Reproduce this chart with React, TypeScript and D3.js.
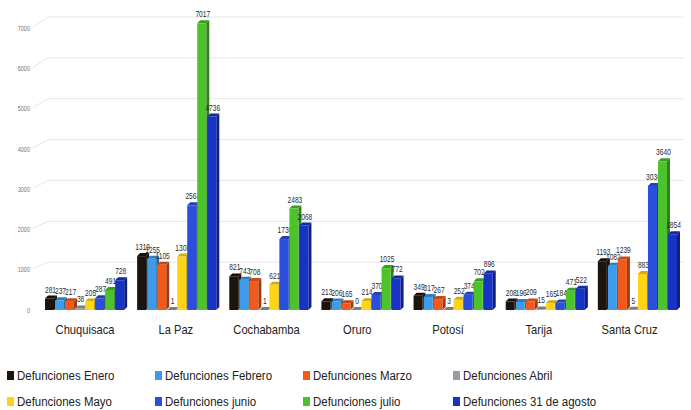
import * as React from 'react';
import * as d3 from 'd3';

const departments = ['Chuquisaca', 'La Paz', 'Cochabamba', 'Oruro', 'Potosí', 'Tarija', 'Santa Cruz'];
const seriesNames = [
  'Defunciones Enero',
  'Defunciones Febrero',
  'Defunciones Marzo',
  'Defunciones Abril',
  'Defunciones Mayo',
  'Defunciones junio',
  'Defunciones julio',
  'Defunciones 31 de agosto',
];
const seriesColors = ['#1c140d', '#3d9be9', '#f25a1c', '#9a9aa6', '#ffd414', '#2b4fdc', '#4cc32b', '#1733c4'];

// one array per month, in department order
const enero = [281, 1319, 821, 213, 349, 208, 1193];
const febrero = [237, 1255, 743, 206, 317, 196, 1082];
const marzo = [217, 1105, 708, 165, 267, 209, 1239];
const abril = [38, 1, 1, 0, 3, 15, 5];
const mayo = [205, 1308, 621, 214, 252, 165, 883];
const junio = [287, 2563, 1736, 370, 374, 184, 3036];
const julio = [491, 7017, 2483, 1025, 702, 471, 3640];
const agosto = [728, 4736, 2068, 772, 896, 522, 1854];
const series = [enero, febrero, marzo, abril, mayo, junio, julio, agosto];

const yTicks = [0, 1000, 2000, 3000, 4000, 5000, 6000, 7000];

const W = 691;
const H = 410;
const FONT = "'Liberation Sans', 'DejaVu Sans', sans-serif";

// condensed text, like the narrow font in the original
function NText(props: {
  x: number;
  y: number;
  sx: number;
  size: number;
  anchor?: string;
  fill?: string;
  baseline?: string;
  children: React.ReactNode;
}) {
  return (
    <text
      transform={`translate(${props.x},${props.y}) scale(${props.sx},1)`}
      textAnchor={props.anchor || 'start'}
      dominantBaseline={props.baseline || 'auto'}
      fontFamily={FONT}
      fontSize={props.size}
      fill={props.fill || '#222'}
    >
      {props.children}
    </text>
  );
}

export default function App() {
  const x0 = d3.scaleBand<string>().domain(departments).range([39, 684]).paddingInner(0.13).paddingOuter(0.065);
  const x1 = d3.scaleBand<number>().domain(d3.range(seriesNames.length)).range([0, x0.bandwidth()]).padding(0);
  const y = d3.scaleLinear().domain([0, 7000]).range([310, 24]);
  const yLabel = d3.scaleLinear().domain([0, 7000]).range([311, 29]);
  const depth = 3;
  const bw = x1.bandwidth() - 1;

  return (
    <div style={{ position: 'fixed', left: 0, top: 0 }}>
      <svg width={W} height={H} style={{ display: 'block', background: '#fff' }}>
        {/* grid with perspective */}
        {yTicks.map((t) => {
          const ly = yLabel(t);
          const gy = y(t) - 7;
          return (
            <g key={t}>
              {t > 0 && (
                <path d={`M33,${ly - 2} L48,${gy} L684,${gy}`} fill="none" stroke="#e6e6e6" strokeWidth={1} />
              )}
              <NText x={30} y={ly} sx={0.85} size={6.5} anchor="end" baseline="middle" fill="#777">
                {t}
              </NText>
            </g>
          );
        })}

        {departments.map((dep, i) => {
          const gx = x0(dep)!;
          return (
            <g key={dep}>
              {series.map((vals, s) => {
                const v = vals[i];
                const bx = gx + x1(s)!;
                const top = y(v);
                const base = y(0);
                const c = seriesColors[s];
                const dark = d3.color(c)!.darker(1.2).toString();
                const mid = d3.color(c)!.darker(0.6).toString();
                return (
                  <g key={s}>
                    <polygon
                      points={`${bx + bw},${top} ${bx + bw + depth},${top - depth} ${bx + bw + depth},${base - depth} ${bx + bw},${base}`}
                      fill={dark}
                    />
                    <polygon
                      points={`${bx},${top} ${bx + depth},${top - depth} ${bx + bw + depth},${top - depth} ${bx + bw},${top}`}
                      fill={mid}
                    />
                    <rect x={bx} y={top} width={bw} height={Math.max(0, base - top)} fill={c} />
                    <NText x={bx + bw / 2 + 1} y={top - depth - 3} sx={0.78} size={8.5} anchor="middle" fill="#2a2a2a">
                      {v}
                    </NText>
                  </g>
                );
              })}
              <NText x={gx + x0.bandwidth() / 2 - i * 1.4} y={334} sx={0.86} size={13} anchor="middle">
                {dep}
              </NText>
            </g>
          );
        })}

        {/* legend */}
        {seriesNames.map((name, s) => {
          const col = s % 4;
          const row = Math.floor(s / 4);
          const lx = [7, 155, 303, 453][col];
          const ly = row === 0 ? 376 : 402;
          return (
            <g key={name}>
              <rect x={lx} y={ly - 5} width={7} height={9} fill={seriesColors[s]} />
              <NText x={lx + 10} y={ly} sx={0.85} size={13.5} baseline="middle">
                {name}
              </NText>
            </g>
          );
        })}
      </svg>
    </div>
  );
}
